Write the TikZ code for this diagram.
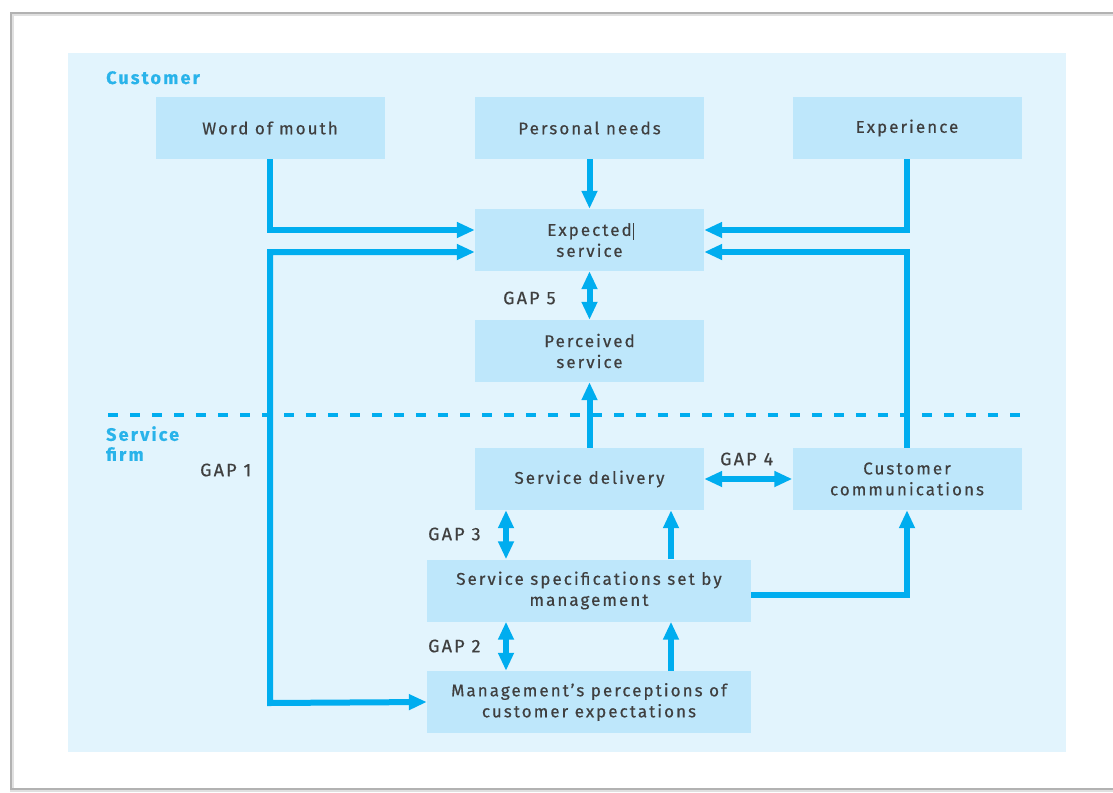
\documentclass[tikz,border=0pt]{standalone}
\usepackage{fontspec}
\setmainfont{Fira Sans}[LetterSpace=12,FakeBold=0.5]
\usetikzlibrary{arrows.meta}
\definecolor{pagebg}{HTML}{E2F4FD}
\definecolor{boxblue}{HTML}{BEE7FB}
\definecolor{flowblue}{HTML}{00ADEF}
\definecolor{labelblue}{HTML}{29B3EA}
\definecolor{txtgray}{HTML}{3F3F3F}
\tikzset{
  gapbox/.style={rectangle,fill=boxblue,minimum width=229pt,minimum height=62pt,
    inner sep=0pt,align=center,text=txtgray,font=\fontsize{17}{21}\selectfont},
  widebox/.style={gapbox,minimum width=324pt},
  flow/.style={draw=flowblue,line width=6pt,-{Triangle[length=18pt,width=15pt]}},
  twoway/.style={draw=flowblue,line width=6pt,{Triangle[length=18pt,width=15pt]}-{Triangle[length=18pt,width=15pt]}},
  gaplabel/.style={anchor=west,inner sep=0pt,text=txtgray,font=\fontsize{18}{18}\selectfont},
  sidelabel/.style={anchor=north west,inner sep=0pt,align=left,text=labelblue,
    font=\fontsize{18}{20}\selectfont\bfseries}
}

\begin{document}
\begin{tikzpicture}[scale=1,x=1pt,y=-1pt]
            \useasboundingbox (0,0) rectangle (1113,792);
            \fill[white] (0,0) rectangle (1113,792);
            \draw[black!12,line width=4pt] (1120,14) -- (12,14) -- (12,790) -- (1120,790);
            \draw[black!30,line width=1.2pt] (1120,13) -- (11,13) -- (11,789) -- (1120,789);
            \fill[pagebg] (68,53) rectangle (1066,752);
            %\draw[help lines,step=50] (0,0) grid (1113,792);
            \draw[flowblue,line width=4pt,dash pattern=on 10pt off 12pt] (108,415) -- (1022,415);
            \node[sidelabel] (customer) at (106,71) {Customer};
            \node[sidelabel] (firm) at (106,426) {Service\\firm};
            \node[gapbox] (mouth) at (270,128) {Word of mouth};
            \node[gapbox] (needs) at (589.5,128) {Personal needs};
            \node[gapbox] (past) at (907,128) {Experience};
            \node[gapbox] (expected) at (589.5,240) {Expected\rlap{\hspace{1pt}\rule[-4pt]{0.9pt}{17pt}}\\service};
            \node[gapbox] (perceived) at (589.5,351) {Perceived\\service};
            \node[gapbox] (delivery) at (589.5,479) {Service delivery};
            \node[gapbox] (comms) at (907,479) {Customer\\communications};
            \node[widebox] (specs) at (589,590.5) {Service specifications set by\\management};
            \node[widebox] (mgmt) at (589,702) {Management's perceptions of\\customer expectations};
            \node[gaplabel] (gap1) at (200,470) {GAP 1};
            \node[gaplabel] (gap2) at (428,646) {GAP 2};
            \node[gaplabel] (gap3) at (428,534) {GAP 3};
            \node[gaplabel] (gap4) at (720,459) {GAP 4};
            \node[gaplabel] (gap5) at (503,298) {GAP 5};
            \coordinate (loopa) at (270,252);
            \coordinate (loopb) at (270,703);
            \draw[flow] (mouth.south) |- ([yshift=10pt]expected.west);
            \draw[flow] (needs) -- (expected);
            \draw[flow] (past.south) |- ([yshift=10pt]expected.east);
            \draw[flow] (comms.north) |- ([yshift=-12pt]expected.east);
            \draw[twoway] ([yshift=-12pt]expected.west) -- (loopa) -- (loopb) -- (mgmt.west);
            \draw[twoway] (expected) -- (perceived);
            \draw[flow] (delivery) -- (perceived);
            \draw[twoway] (delivery) -- (comms);
            \draw[twoway] ([xshift=-83.5pt]delivery.south) -- ([xshift=-83pt]specs.north);
            \draw[flow] ([xshift=82pt]specs.north) -- ([xshift=81.5pt]delivery.south);
            \draw[flow] ([yshift=-4.5pt]specs.east) -| (comms.south);
            \draw[twoway] ([xshift=-83pt]specs.south) -- ([xshift=-83pt]mgmt.north);
            \draw[flow] ([xshift=82pt]mgmt.north) -- ([xshift=82pt]specs.south);
\end{tikzpicture}
\end{document}
